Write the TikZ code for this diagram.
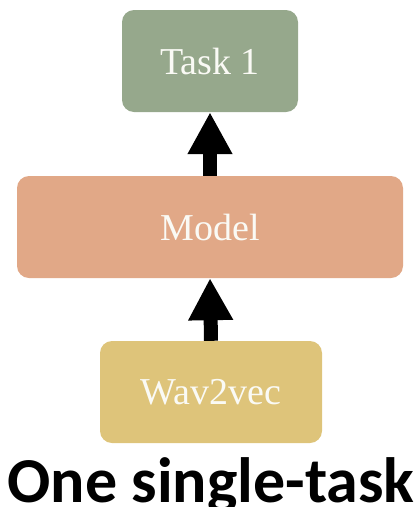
\documentclass[tikz,border=0pt]{standalone}
\usepackage{fontspec}
\setmainfont{Liberation Serif}
\newfontfamily\captionfont{Carlito}
\usetikzlibrary{arrows.meta}
\definecolor{taskgreen}{RGB}{150,168,140}
\definecolor{modelpeach}{RGB}{225,168,135}
\definecolor{wavgold}{RGB}{222,196,122}
\definecolor{labelwhite}{RGB}{250,250,245}
\tikzset{
  block/.style={rectangle, rounded corners=12pt, inner sep=0pt,
    minimum height=102pt, text=labelwhite, font=\fontsize{38}{40}\selectfont},
  flow/.style={line width=14pt, -{Triangle[width=42pt,length=42pt]}}
}
\begin{document}
\begin{tikzpicture}[x=1pt,y=-1pt]
  \useasboundingbox (0,0) rectangle (418,507);
  \node[block, fill=taskgreen, minimum width=176pt] (task) at (210,61) {Task 1};
  \node[block, fill=modelpeach, minimum width=386pt] (model) at (210,227) {Model};
  \node[block, fill=wavgold, minimum width=222pt] (wav) at (211,392) {Wav2vec};
  \draw[flow] (wav.north) -- (model.south);
  \draw[flow] (model.north) -- (task.south);
  \node[anchor=base, inner sep=0pt, font=\captionfont\bfseries\fontsize{64}{66}\selectfont] (cap) at (211,502) {One single-task};
\end{tikzpicture}
\end{document}
